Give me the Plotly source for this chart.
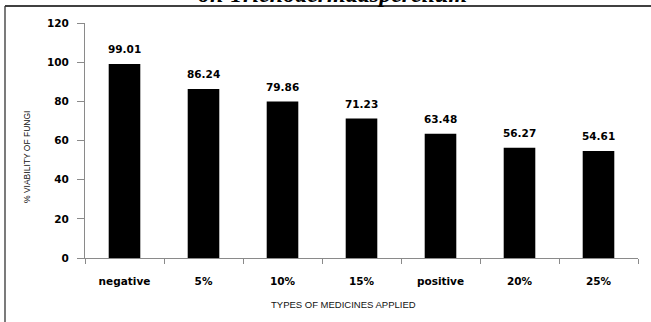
import plotly.graph_objects as go

categories = ["negative", "5%", "10%", "15%", "positive", "20%", "25%"]
viability = [99.01, 86.24, 79.86, 71.23, 63.48, 56.27, 54.61]
label_text = ["99.01", "86.24", "79.86", "71.23", "63.48", "56.27", "54.61"]
y_ticks = [0, 20, 40, 60, 80, 100, 120]

W, H = 651, 322
L, R, T, B = 85, 13, 23, 64
pw, ph = W - L - R, H - T - B

def px_x(x):
    return (x - L) / pw

def px_y(y):
    return (H - B - y) / ph

bold = dict(family="DejaVu Sans", size=10.5, color="black", weight="bold")

fig = go.Figure()
fig.add_trace(go.Bar(x=categories, y=viability, width=0.4,
                     marker=dict(color="black", line=dict(width=0))))

for c, v, t in zip(categories, viability, label_text):
    fig.add_annotation(x=c, y=v, text=t, showarrow=False,
                       yanchor="bottom", yshift=7, font=bold)

fig.add_annotation(xref="paper", yref="paper", x=px_x(20), y=px_y(157),
                   text="% VIABILITY OF FUNGI", textangle=-90, showarrow=False,
                   font=dict(family="Liberation Sans", size=8.5, color="#111"))
fig.add_annotation(xref="paper", yref="paper", x=px_x(343), y=px_y(312),
                   text="TYPES OF MEDICINES APPLIED", showarrow=False,
                   font=dict(family="Liberation Sans", size=9.5, color="#111"))
fig.add_annotation(xref="paper", yref="paper", x=px_x(332), y=px_y(-21),
                   text="<b><i>on Trichodermaasperellum</i></b>", showarrow=False,
                   font=dict(family="Liberation Serif", size=24, color="black"))

fig.add_shape(type="line", xref="paper", yref="paper",
              x0=px_x(5), x1=px_x(655), y0=px_y(6), y1=px_y(6),
              line=dict(color="black", width=1.3))
fig.add_shape(type="line", xref="paper", yref="paper",
              x0=px_x(5), x1=px_x(5), y0=px_y(6), y1=px_y(330),
              line=dict(color="#333", width=1.3))

fig.update_layout(
    width=W, height=H, margin=dict(l=L, r=R, t=T, b=B),
    paper_bgcolor="white", plot_bgcolor="white", showlegend=False,
    bargap=0.6,
)
fig.update_xaxes(type="category", showgrid=False, showline=True, linecolor="#8a8a8a",
                 linewidth=1, ticks="outside", tickson="boundaries", ticklen=5,
                 tickcolor="#8a8a8a", tickfont=bold, ticklabelstandoff=13)
fig.update_yaxes(range=[0, 120], tickvals=y_ticks, showgrid=False, showline=True,
                 linecolor="#8a8a8a", linewidth=1, ticks="outside", ticklen=7,
                 tickcolor="#8a8a8a", tickfont=bold, zeroline=False,
                 ticklabelstandoff=6)

fig.write_html("out.html")
